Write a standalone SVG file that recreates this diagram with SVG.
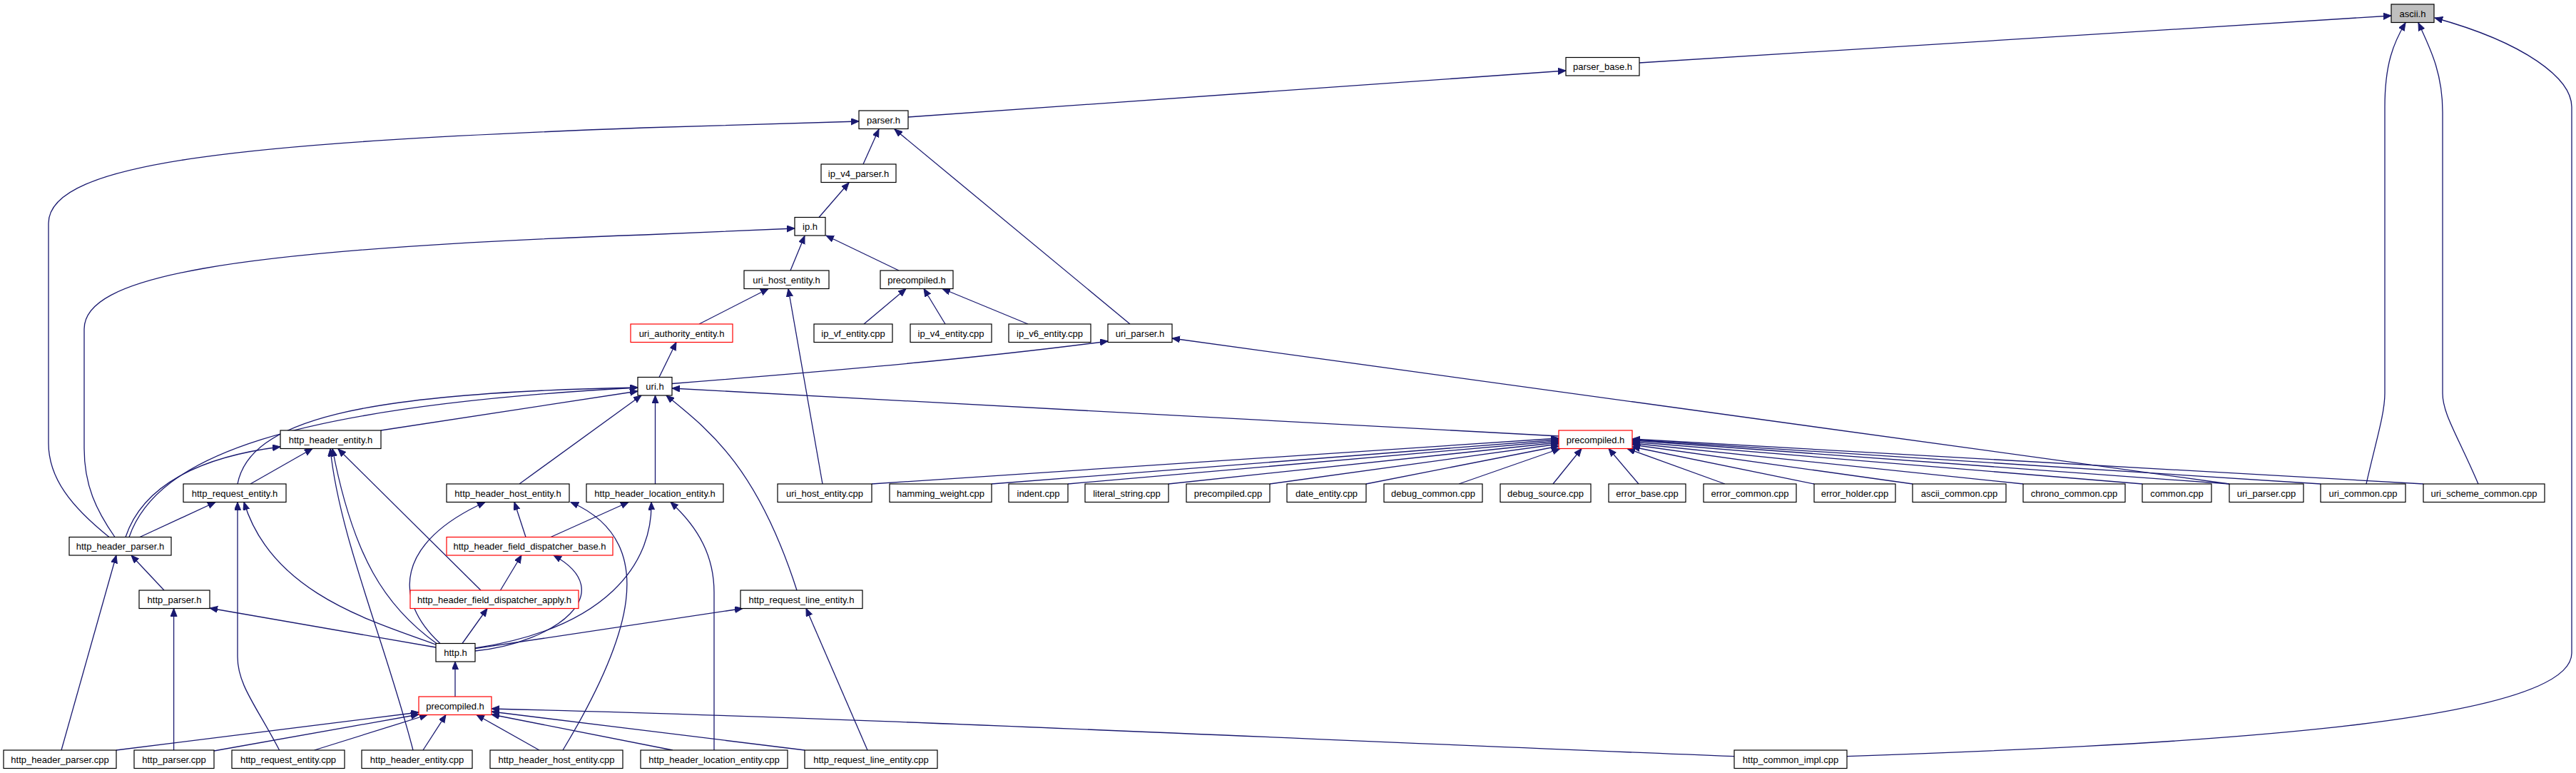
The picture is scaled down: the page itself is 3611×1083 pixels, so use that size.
<svg xmlns="http://www.w3.org/2000/svg" width="3611" height="1083" viewBox="0 0 3611 1083">
<style>
.n rect{fill:#fff;stroke:#000;stroke-width:1.2}
.n.r rect{stroke:#ff0000}
.n.g rect{fill:#bfbfbf}
.n text{font-family:"Liberation Sans",Arial,sans-serif;font-size:13px;text-anchor:middle;fill:#000}
#edges path{fill:none;stroke:#191970;stroke-width:1.3;marker-end:url(#a)}
</style>
<defs>
<marker id="a" markerWidth="12" markerHeight="10" refX="11" refY="4.5" orient="auto" markerUnits="userSpaceOnUse"><path d="M0,0 L11,4.5 L0,9 z" fill="#191970" stroke="#191970" stroke-width="1"/></marker>
</defs>
<rect width="3611" height="1083" fill="#fff"/>
<g id="edges">
<path d="M2298,88 L3352,22"/>
<path d="M1273,164 L2195,99"/>
<path d="M153,752.5 C100,710 68,670 68,621 L68,313 C68,225 350,200 903,179 L1204,170"/>
<path d="M1210,230 L1232,181"/>
<path d="M1584,454 L1254,181"/>
<path d="M1148,304.5 L1190,256"/>
<path d="M161,752.5 C135,715 118,680 118,628 L118,461 C118,390 300,350 903,329 L1114,320"/>
<path d="M1108,379 L1128,330.5"/>
<path d="M1260,379 L1158,330"/>
<path d="M980,454 L1077,404.5"/>
<path d="M1153,678 L1105,404.5"/>
<path d="M1211,454 L1270,404.5"/>
<path d="M1325,454 L1295,404.5"/>
<path d="M1441,454 L1321,404.5"/>
<path d="M924,528.5 L948,479.5"/>
<path d="M942,537.5 C1100,525 1350,505 1553,478"/>
<path d="M3125,678 L1643,474"/>
<path d="M3317,678 C3330,620 3343,580 3343,551 L3343,150 C3343,90 3355,60 3372,32"/>
<path d="M3474,678 C3445,610 3424,580 3424,551 L3424,157 C3424,100 3405,65 3390,32"/>
<path d="M2589,1059.7 C3000,1045 3605,1020 3605,915 L3605,150 C3605,110 3540,60 3413,25"/>
<path d="M534,603 L894,548"/>
<path d="M333,678 C350,590 500,550 894,543"/>
<path d="M181,752.5 C220,640 400,570 894,543"/>
<path d="M176,752.5 C200,680 280,640 393,626"/>
<path d="M351,678 L438,628.5"/>
<path d="M196,752.5 L302,703.5"/>
<path d="M728,678 L899,554"/>
<path d="M918.5,678 L918.5,554"/>
<path d="M1117,827 C1060,650 990,600 934,554"/>
<path d="M2185,611 L942,544"/>
<path d="M1222,678 L2185,614"/>
<path d="M1390,678 L2185,616"/>
<path d="M1497,678 L2185,618"/>
<path d="M1638,678 L2185,620"/>
<path d="M1780,678 L2185,622"/>
<path d="M1915,678 L2185,625"/>
<path d="M2045,678 L2187,628.5"/>
<path d="M2177,678 L2217,628.5"/>
<path d="M2297,678 L2255,628.5"/>
<path d="M2418,678 L2281,628.5"/>
<path d="M2543,678 L2288,626"/>
<path d="M2681,678 L2288,623"/>
<path d="M2836,678 L2288,621"/>
<path d="M3003,678 L2288,619"/>
<path d="M3125,678 L2288,617"/>
<path d="M3253,678 L2288,616"/>
<path d="M3397,678 L2288,615"/>
<path d="M612,901.5 C540,850 495,780 466,628.5"/>
<path d="M579,1051 C540,900 475,750 463,628.5"/>
<path d="M674,827 L474,629"/>
<path d="M391.6,1051 C360,990 333,960 333,920 L333,703.5"/>
<path d="M611,903 C520,870 380,830 342,703.5"/>
<path d="M617,901.5 C550,840 555,760 680,703.5"/>
<path d="M737,752.5 L721,703.5"/>
<path d="M789,1051 C880,900 930,760 800,703.5"/>
<path d="M772,752.5 L881,703.5"/>
<path d="M666,908 C850,880 915,790 913,703.5"/>
<path d="M1001,1051 L1001,830 C1001,780 980,740 940,703.5"/>
<path d="M611,907 L294,852"/>
<path d="M648,901.5 L683,852.5"/>
<path d="M666,912 C780,900 870,830 776,778"/>
<path d="M666,908.7 L1041,852.5"/>
<path d="M86,1051 L163,778"/>
<path d="M230,827 L184,778"/>
<path d="M243.6,1051 L243.6,852.5"/>
<path d="M701.5,827 L731,778"/>
<path d="M638,976 L638,927"/>
<path d="M163,1051 L587,998"/>
<path d="M300,1052 L587,1001"/>
<path d="M440.6,1051 L599,1001.5"/>
<path d="M593,1051 L625,1001.5"/>
<path d="M756,1051 L668,1001.5"/>
<path d="M943,1051 L689,1001"/>
<path d="M1128,1051 L689,997"/>
<path d="M2431,1059.7 C1800,1035 1200,1005 689,993"/>
<path d="M1216,1051 L1130,852.5"/>
</g>
<g id="n_ascii_h" class="n g"><rect x="3352" y="6" width="60" height="25.5"/><text x="3382" y="23.5">ascii.h</text></g>
<g id="n_parser_base_h" class="n"><rect x="2195" y="80.5" width="103" height="25.5"/><text x="2246.5" y="98">parser_base.h</text></g>
<g id="n_parser_h" class="n"><rect x="1204" y="155" width="69" height="25.5"/><text x="1238.5" y="172.5">parser.h</text></g>
<g id="n_ip_v4_parser_h" class="n"><rect x="1151" y="230" width="105" height="25.5"/><text x="1203.5" y="247.5">ip_v4_parser.h</text></g>
<g id="n_ip_h" class="n"><rect x="1114" y="304.5" width="43" height="25.5"/><text x="1135.5" y="322">ip.h</text></g>
<g id="n_uri_host_entity_h" class="n"><rect x="1043" y="379" width="119" height="25.5"/><text x="1102.5" y="396.5">uri_host_entity.h</text></g>
<g id="n_precompiled_h_1" class="n"><rect x="1234" y="379" width="102" height="25.5"/><text x="1285" y="396.5">precompiled.h</text></g>
<g id="n_uri_authority_entity_h" class="n r"><rect x="884" y="454" width="143" height="25.5"/><text x="955.5" y="471.5">uri_authority_entity.h</text></g>
<g id="n_ip_vf_entity_cpp" class="n"><rect x="1141" y="454" width="110" height="25.5"/><text x="1196" y="471.5">ip_vf_entity.cpp</text></g>
<g id="n_ip_v4_entity_cpp" class="n"><rect x="1276" y="454" width="114" height="25.5"/><text x="1333" y="471.5">ip_v4_entity.cpp</text></g>
<g id="n_ip_v6_entity_cpp" class="n"><rect x="1414" y="454" width="115" height="25.5"/><text x="1471.5" y="471.5">ip_v6_entity.cpp</text></g>
<g id="n_uri_parser_h" class="n"><rect x="1553" y="454" width="90" height="25.5"/><text x="1598" y="471.5">uri_parser.h</text></g>
<g id="n_uri_h" class="n"><rect x="894" y="528.5" width="48" height="25.5"/><text x="918" y="546">uri.h</text></g>
<g id="n_http_header_entity_h" class="n"><rect x="393" y="603" width="141" height="25.5"/><text x="463.5" y="620.5">http_header_entity.h</text></g>
<g id="n_precompiled_h_2" class="n r"><rect x="2185" y="603" width="103" height="25.5"/><text x="2236.5" y="620.5">precompiled.h</text></g>
<g id="n_http_request_entity_h" class="n"><rect x="257" y="678" width="144" height="25.5"/><text x="329" y="695.5">http_request_entity.h</text></g>
<g id="n_http_header_host_entity_h" class="n"><rect x="626" y="678" width="172" height="25.5"/><text x="712" y="695.5">http_header_host_entity.h</text></g>
<g id="n_http_header_location_entity_h" class="n"><rect x="822" y="678" width="192" height="25.5"/><text x="918" y="695.5">http_header_location_entity.h</text></g>
<g id="n_uri_host_entity_cpp" class="n"><rect x="1090" y="678" width="132" height="25.5"/><text x="1156" y="695.5">uri_host_entity.cpp</text></g>
<g id="n_hamming_weight_cpp" class="n"><rect x="1247" y="678" width="143" height="25.5"/><text x="1318.5" y="695.5">hamming_weight.cpp</text></g>
<g id="n_indent_cpp" class="n"><rect x="1414" y="678" width="83" height="25.5"/><text x="1455.5" y="695.5">indent.cpp</text></g>
<g id="n_literal_string_cpp" class="n"><rect x="1521" y="678" width="117" height="25.5"/><text x="1579.5" y="695.5">literal_string.cpp</text></g>
<g id="n_precompiled_cpp" class="n"><rect x="1663" y="678" width="117" height="25.5"/><text x="1721.5" y="695.5">precompiled.cpp</text></g>
<g id="n_date_entity_cpp" class="n"><rect x="1804" y="678" width="111" height="25.5"/><text x="1859.5" y="695.5">date_entity.cpp</text></g>
<g id="n_debug_common_cpp" class="n"><rect x="1940" y="678" width="138" height="25.5"/><text x="2009" y="695.5">debug_common.cpp</text></g>
<g id="n_debug_source_cpp" class="n"><rect x="2103" y="678" width="127" height="25.5"/><text x="2166.5" y="695.5">debug_source.cpp</text></g>
<g id="n_error_base_cpp" class="n"><rect x="2255" y="678" width="108" height="25.5"/><text x="2309" y="695.5">error_base.cpp</text></g>
<g id="n_error_common_cpp" class="n"><rect x="2388" y="678" width="130" height="25.5"/><text x="2453" y="695.5">error_common.cpp</text></g>
<g id="n_error_holder_cpp" class="n"><rect x="2543" y="678" width="114" height="25.5"/><text x="2600" y="695.5">error_holder.cpp</text></g>
<g id="n_ascii_common_cpp" class="n"><rect x="2681" y="678" width="131" height="25.5"/><text x="2746.5" y="695.5">ascii_common.cpp</text></g>
<g id="n_chrono_common_cpp" class="n"><rect x="2836" y="678" width="143" height="25.5"/><text x="2907.5" y="695.5">chrono_common.cpp</text></g>
<g id="n_common_cpp" class="n"><rect x="3003" y="678" width="97" height="25.5"/><text x="3051.5" y="695.5">common.cpp</text></g>
<g id="n_uri_parser_cpp" class="n"><rect x="3125" y="678" width="104" height="25.5"/><text x="3177" y="695.5">uri_parser.cpp</text></g>
<g id="n_uri_common_cpp" class="n"><rect x="3253" y="678" width="119" height="25.5"/><text x="3312.5" y="695.5">uri_common.cpp</text></g>
<g id="n_uri_scheme_common_cpp" class="n"><rect x="3397" y="678" width="170" height="25.5"/><text x="3482" y="695.5">uri_scheme_common.cpp</text></g>
<g id="n_http_header_parser_h" class="n"><rect x="97" y="752.5" width="143" height="25.5"/><text x="168.5" y="770">http_header_parser.h</text></g>
<g id="n_http_header_field_dispatcher_base_h" class="n r"><rect x="626" y="752.5" width="233" height="25.5"/><text x="742.5" y="770">http_header_field_dispatcher_base.h</text></g>
<g id="n_http_parser_h" class="n"><rect x="195" y="827" width="99" height="25.5"/><text x="244.5" y="844.5">http_parser.h</text></g>
<g id="n_http_header_field_dispatcher_apply_h" class="n r"><rect x="575" y="827" width="236" height="25.5"/><text x="693" y="844.5">http_header_field_dispatcher_apply.h</text></g>
<g id="n_http_request_line_entity_h" class="n"><rect x="1038" y="827" width="171" height="25.5"/><text x="1123.5" y="844.5">http_request_line_entity.h</text></g>
<g id="n_http_h" class="n"><rect x="611" y="901.5" width="55" height="25.5"/><text x="638.5" y="919">http.h</text></g>
<g id="n_precompiled_h_3" class="n r"><rect x="587" y="976" width="102" height="25.5"/><text x="638" y="993.5">precompiled.h</text></g>
<g id="n_http_header_parser_cpp" class="n"><rect x="5" y="1051" width="158" height="25.5"/><text x="84" y="1068.5">http_header_parser.cpp</text></g>
<g id="n_http_parser_cpp" class="n"><rect x="188" y="1051" width="112" height="25.5"/><text x="244" y="1068.5">http_parser.cpp</text></g>
<g id="n_http_request_entity_cpp" class="n"><rect x="325" y="1051" width="158" height="25.5"/><text x="404" y="1068.5">http_request_entity.cpp</text></g>
<g id="n_http_header_entity_cpp" class="n"><rect x="507" y="1051" width="155" height="25.5"/><text x="584.5" y="1068.5">http_header_entity.cpp</text></g>
<g id="n_http_header_host_entity_cpp" class="n"><rect x="687" y="1051" width="186" height="25.5"/><text x="780" y="1068.5">http_header_host_entity.cpp</text></g>
<g id="n_http_header_location_entity_cpp" class="n"><rect x="898" y="1051" width="206" height="25.5"/><text x="1001" y="1068.5">http_header_location_entity.cpp</text></g>
<g id="n_http_request_line_entity_cpp" class="n"><rect x="1128" y="1051" width="186" height="25.5"/><text x="1221" y="1068.5">http_request_line_entity.cpp</text></g>
<g id="n_http_common_impl_cpp" class="n"><rect x="2431" y="1051" width="158" height="25.5"/><text x="2510" y="1068.5">http_common_impl.cpp</text></g>
</svg>
